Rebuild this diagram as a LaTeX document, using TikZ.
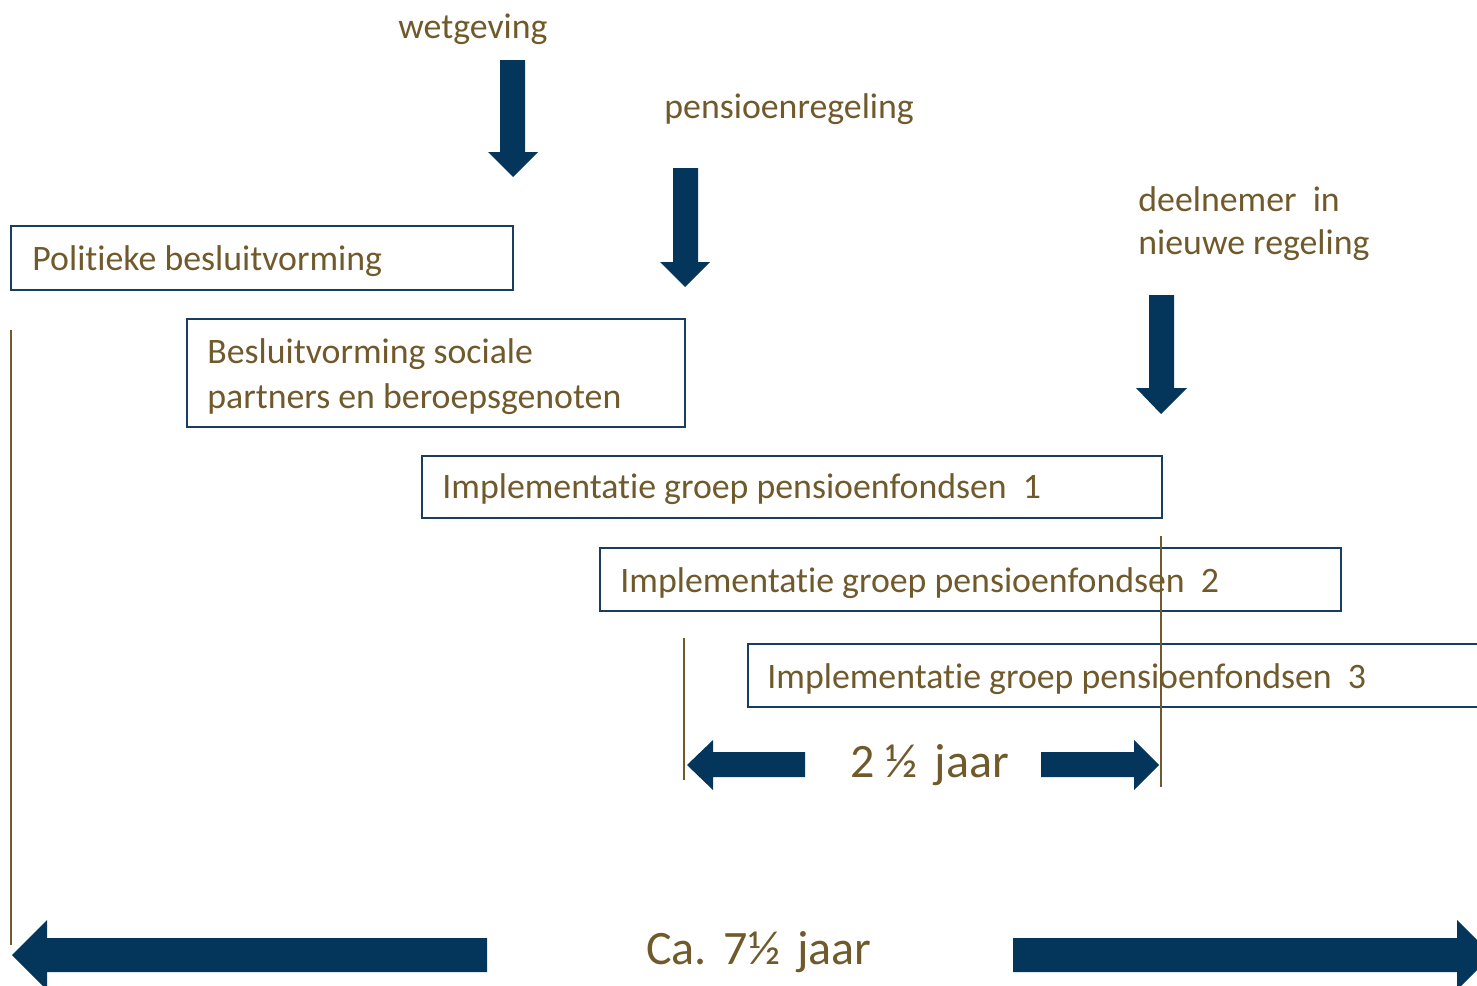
\documentclass[tikz,border=0pt]{standalone}
\usepackage{fontspec}
\setmainfont[Ligatures=NoCommon]{Carlito}
\definecolor{txtbrown}{RGB}{112,90,44}
\definecolor{navy}{RGB}{3,54,90}
\definecolor{boxnavy}{RGB}{25,60,95}
\begin{document}
\begin{tikzpicture}[x=0.5pt,y=-0.5pt,
  lbl/.style={anchor=base west,inner sep=0pt,text=txtbrown,font=\fontsize{17.9pt}{22pt}\selectfont},
  biglbl/.style={anchor=base west,inner sep=0pt,text=txtbrown,font=\fontsize{24pt}{29pt}\selectfont},
  boxline/.style={draw=boxnavy,line width=1.25pt},
  vline/.style={draw=txtbrown,line width=0.9pt},
  blockarrow/.style={fill=navy,draw=none}]
\useasboundingbox (0,0) rectangle (1477,985);
% top labels
\node[lbl] (wet) at (398,39) {wetgeving};
\node[lbl] (pens) at (664,118) {pensioenregeling};
\node[lbl] (deel1) at (1138,211) {deelnemer\ \ in};
\node[lbl] (deel2) at (1138,254) {nieuwe regeling};
% down arrows
\path[blockarrow] (500,60) -- (525,60) -- (525,152) -- (538,152) -- (513,177) -- (488,152) -- (500,152) -- cycle;
\path[blockarrow] (673,168) -- (698,168) -- (698,262) -- (710,262) -- (685,287) -- (660,262) -- (673,262) -- cycle;
\path[blockarrow] (1149,295) -- (1174,295) -- (1174,388) -- (1187,388) -- (1161,414) -- (1136,388) -- (1149,388) -- cycle;
% boxes
\draw[boxline] (11,226) rectangle (513,290);
\node[lbl] (t1) at (32,270) {Politieke besluitvorming};
\draw[boxline] (187,319) rectangle (685,427);
\node[lbl] (t2a) at (207,363) {Besluitvorming sociale};
\node[lbl] (t2b) at (207,408) {partners en beroepsgenoten};
\draw[boxline] (422,456) rectangle (1162,518);
\node[lbl] (t3) at (442,498) {Implementatie groep pensioenfondsen\ \ 1};
\draw[boxline] (600,548) rectangle (1341,611);
\node[lbl] (t4) at (620,592) {Implementatie groep pensioenfondsen\ \ 2};
\draw[boxline] (748,644) rectangle (1500,707);
\node[lbl] (t5) at (767,688) {Implementatie groep pensioenfondsen\ \ 3};
% vertical lines
\draw[vline] (11,330) -- (11,945);
\draw[vline] (684,638) -- (684,780);
\draw[vline] (1161,536) -- (1161,787);
% 2.5 jaar arrows
\path[blockarrow] (687,765) -- (713,740) -- (713,752) -- (805,752) -- (805,777) -- (713,777) -- (713,790) -- cycle;
\path[blockarrow] (1159,765) -- (1134,740) -- (1134,752) -- (1041,752) -- (1041,777) -- (1134,777) -- (1134,790) -- cycle;
\node[biglbl] (half) at (850,777) {2 ½\hspace{0.35em}jaar};
% bottom arrows
\path[blockarrow] (12,955) -- (47,920) -- (47,938) -- (487,938) -- (487,972) -- (47,972) -- (47,990) -- cycle;
\path[blockarrow] (1492,955) -- (1457,920) -- (1457,938) -- (1013,938) -- (1013,972) -- (1457,972) -- (1457,990) -- cycle;
\node[biglbl] (ca) at (646,964) {Ca.\hspace{0.35em}7½\hspace{0.35em}jaar};
\end{tikzpicture}
\end{document}
